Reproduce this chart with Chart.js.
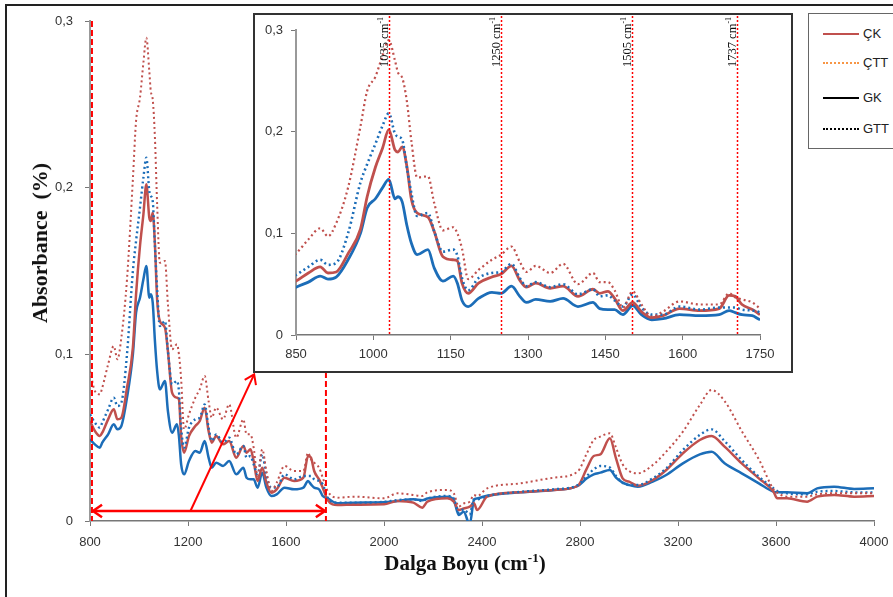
<!DOCTYPE html>
<html>
<head>
<meta charset="utf-8">
<script src="https://cdn.jsdelivr.net/npm/chart.js@4.4.1/dist/chart.umd.min.js"></script>
<style>
  body { margin: 0; background: #fff; width: 893px; height: 597px; overflow: hidden; position: relative;
         font-family: "Liberation Sans", Arial, sans-serif; }
  #frame { position: absolute; left: 5px; top: 4px; width: 900px; height: 600px;
           border-top: 2px solid #222; border-left: 2px solid #222; }
  #main { position: absolute; left: 0; top: 0; }
  #insetBox { position: absolute; left: 253px; top: 13px; width: 540px; height: 360px;
              border: 2px solid #333; box-sizing: border-box; background: #fff; }
  #legend { position: absolute; left: 808px; top: 13px; width: 110px; height: 134px;
            border: 1px solid #666; background: #fff; }
  .item { position: absolute; left: 14px; height: 16px; }
  .sample { position: absolute; left: 0; top: 7px; width: 36px; }
  .label { position: absolute; left: 40px; top: 0; font-size: 13px; line-height: 16px; color: #222; }
  .title { position: absolute; font-family: "Liberation Serif", "Times New Roman", serif; font-weight: bold;
           color: #111; white-space: nowrap; }
  #xTitle { left: 465px; top: 563px; font-size: 21px; transform: translate(-50%, -50%); }
  #yTitle { left: 40px; top: 243px; font-size: 22px; transform: translate(-50%, -50%) rotate(-90deg); }
  sup { font-size: 62%; vertical-align: 0.55em; line-height: 0; }
</style>
</head>
<body>
<div id="frame"></div>
<canvas id="main" width="893" height="597"></canvas>
<div id="insetBox"><canvas id="inset" width="536" height="356"></canvas></div>

<div id="legend">
  <div class="item" style="top:12px"><div class="sample" style="border-top:2px solid #c0504d"></div><span class="label">ÇK</span></div>
  <div class="item" style="top:41px"><div class="sample" style="border-top:2px dotted #f79646"></div><span class="label">ÇTT</span></div>
  <div class="item" style="top:76px"><div class="sample" style="border-top:2px solid #000"></div><span class="label">GK</span></div>
  <div class="item" style="top:107px"><div class="sample" style="border-top:2px dotted #000"></div><span class="label">GTT</span></div>
</div>

<div id="xTitle" class="title">Dalga Boyu (cm<sup>-1</sup>)</div>
<div id="yTitle" class="title">Absorbance&nbsp; (%)</div>

<script>
// ---------------- DATA ----------------
const wavenumbers = [800, 820, 840, 850, 874, 897, 912, 928, 951, 975,
  988, 1004, 1018, 1030, 1042, 1048, 1056, 1065, 1074, 1085,
  1106, 1118, 1135, 1155, 1163, 1172, 1184, 1204, 1230, 1248,
  1268, 1284, 1297, 1315, 1343, 1368, 1397, 1426, 1439, 1455,
  1468, 1484, 1503, 1520, 1540, 1562, 1594, 1633, 1671, 1690,
  1702, 1715, 1735, 1750, 1770, 1810, 1880, 2000, 2054, 2120,
  2156, 2177, 2258, 2285, 2305, 2325, 2350, 2367, 2380, 2421,
  2557, 2693, 2790, 2828, 2856, 2883, 2922, 2947, 2974, 3000,
  3036, 3097, 3152, 3220, 3289, 3337, 3390, 3460, 3530, 3590,
  3605, 3645, 3727, 3768, 3837, 3919, 4000];

const ck = [.060, .054, .051, .053, .061, .067, .061, .062, .080, .104,
  .136, .165, .184, .202, .182, .180, .185, .166, .133, .120,
  .116, .102, .077, .074, .073, .051, .041, .051, .057, .060,
  .068, .054, .047, .051, .046, .048, .038, .045, .041, .043,
  .036, .024, .032, .023, .017, .019, .026, .024, .026, .039,
  .038, .030, .025, .020, .0126, .0096, .0098, .010, .012, .011,
  .008, .0116, .0136, .0116, .0066, .0075, .0086, .0106, .0066, .0146,
  .0172, .0186, .021, .0316, .039, .040, .0496, .0376, .0256, .0236,
  .0212, .0246, .0306, .0406, .0486, .051, .0446, .0346, .0256, .0176,
  .0136, .0136, .0116, .0146, .0156, .0146, .015];

const ctt = [.090, .078, .076, .080, .094, .105, .097, .110, .145, .205,
  .240, .254, .275, .290, .270, .258, .253, .230, .190, .155,
  .156, .130, .103, .106, .100, .085, .055, .064, .074, .079,
  .087, .072, .062, .068, .061, .070, .050, .061, .052, .052,
  .044, .027, .043, .030, .018, .023, .033, .030, .030, .041,
  .037, .035, .032, .026, .018, .014, .0146, .0136, .0166, .0156,
  .015, .0172, .0186, .0166, .0086, .0105, .0116, .0156, .015, .0196,
  .0226, .026, .0296, .0406, .0486, .0506, .0526, .044, .034, .030,
  .0286, .0336, .0416, .0536, .0696, .0786, .072, .054, .037, .019,
  .017, .0146, .0146, .016, .0166, .0166, .0166];

const gk = [.049, .046, .044, .047, .052, .058, .055, .057, .074, .100,
  .125, .134, .145, .153, .134, .136, .131, .108, .090, .079,
  .084, .066, .053, .058, .051, .034, .028, .036, .042, .041,
  .048, .038, .032, .035, .033, .036, .028, .032, .026, .025,
  .025, .020, .029, .020, .015, .016, .020, .019, .020, .024,
  .022, .020, .019, .015, .0136, .0106, .011, .0112, .012, .013,
  .0125, .0135, .0146, .0126, .0036, .0056, -.002, .0126, .0135, .0152,
  .0172, .0186, .021, .0256, .028, .029, .0306, .026, .023, .0216,
  .0206, .0236, .0276, .0346, .040, .0416, .0346, .0286, .0226, .0176,
  .0172, .0172, .0166, .0196, .0206, .0192, .0196];

const gtt = [.064, .059, .056, .059, .067, .074, .069, .071, .100, .150,
  .168, .188, .206, .218, .198, .195, .192, .165, .139, .117,
  .120, .102, .082, .084, .078, .056, .044, .056, .061, .062,
  .070, .056, .048, .052, .047, .050, .040, .045, .038, .039,
  .034, .028, .040, .027, .020, .020, .028, .025, .027, .027,
  .027, .025, .024, .022, .014, .011, .011, .0115, .0125, .013,
  .012, .0135, .015, .0135, .005, .007, .004, .013, .013, .015,
  .0175, .019, .0215, .027, .031, .033, .032, .027, .023, .0216,
  .0216, .0256, .0316, .0426, .0516, .055, .048, .0366, .0266, .0196,
  .018, .0166, .016, .0176, .018, .0172, .0172];

// zoomed range marks on the main chart
const zoomRange = [808, 1763];
const arrowLevel = 0.006;
const pointerFrom = [1210, 0.006];
const pointerTo = [1470, 0.088];

// band marks on the inset
const bandX = [1030, 1248, 1502, 1705];
const bandLabels = ["1035", "1250", "1505", "1737"];

// ---------------- STYLES ----------------
const RED = "#c0504d";
const BLUE = "#1c6db8";
const MARK = "#ff0000";

function series(values) {
  return wavenumbers.map((w, i) => ({ x: w, y: values[i] }));
}

function makeDatasets(solidW, dotW) {
  return [
    { label: "ÇTT", data: series(ctt), borderColor: RED, borderWidth: dotW, borderDash: [2, 3] },
    { label: "GTT", data: series(gtt), borderColor: BLUE, borderWidth: dotW + 0.4, borderDash: [2, 3] },
    { label: "ÇK", data: series(ck), borderColor: RED, borderWidth: solidW },
    { label: "GK", data: series(gk), borderColor: BLUE, borderWidth: solidW }
  ];
}

const commaTick = v => v === 0 ? "0" : v.toFixed(1).replace(".", ",");
const tickFont = { family: "'Liberation Sans', Arial, sans-serif", size: 13 };

function baseOptions(xMin, xMax, xStep, pad, yWidth, xHeight, tickPadY, tickPadX) {
  return {
    responsive: false,
    animation: false,
    layout: { padding: pad },
    elements: { point: { radius: 0 }, line: { cubicInterpolationMode: "monotone", borderCapStyle: "butt" } },
    plugins: { legend: { display: false }, tooltip: { enabled: false } },
    scales: {
      x: {
        type: "linear", min: xMin, max: xMax,
        ticks: { stepSize: xStep, color: "#333", font: tickFont, padding: tickPadX, maxRotation: 0,
                 callback: v => String(v) },
        grid: { drawOnChartArea: false, tickLength: 5, color: "#777" },
        border: { color: "#777", width: 1.5 },
        afterFit: s => { s.height = xHeight; s.paddingLeft = 0; s.paddingRight = 0; }
      },
      y: {
        min: 0, max: 0.3,
        ticks: { stepSize: 0.1, color: "#333", font: tickFont, padding: tickPadY, callback: commaTick },
        grid: { drawOnChartArea: false, tickLength: 5, color: "#777" },
        border: { color: "#999", width: 2 },
        afterFit: s => { s.width = yWidth; s.paddingTop = 0; s.paddingBottom = 0; }
      }
    }
  };
}

function arrowHead(ctx, fx, fy, tx, ty) {
  const a = Math.atan2(ty - fy, tx - fx), len = 11, spread = 0.6;
  ctx.beginPath();
  ctx.moveTo(tx - len * Math.cos(a - spread), ty - len * Math.sin(a - spread));
  ctx.lineTo(tx, ty);
  ctx.lineTo(tx - len * Math.cos(a + spread), ty - len * Math.sin(a + spread));
  ctx.stroke();
}

// ---------------- MAIN CHART ----------------
const mainGuides = {
  id: "mainGuides",
  afterDatasetsDraw(chart) {
    const { ctx, scales: { x, y }, chartArea } = chart;
    ctx.save();
    ctx.strokeStyle = MARK;
    ctx.lineWidth = 2;
    ctx.setLineDash([6, 3]);
    zoomRange.forEach(v => {
      const px = x.getPixelForValue(v);
      ctx.beginPath();
      ctx.moveTo(px, chartArea.top);
      ctx.lineTo(px, chartArea.bottom);
      ctx.stroke();
    });
    ctx.setLineDash([]);
    ctx.lineWidth = 2.5;
    const x0 = x.getPixelForValue(zoomRange[0]) + 1, x1 = x.getPixelForValue(zoomRange[1]) - 1;
    const ay = y.getPixelForValue(arrowLevel);
    ctx.beginPath(); ctx.moveTo(x0, ay); ctx.lineTo(x1, ay); ctx.stroke();
    arrowHead(ctx, x1, ay, x0, ay);
    arrowHead(ctx, x0, ay, x1, ay);
    ctx.lineWidth = 2;
    const fx = x.getPixelForValue(pointerFrom[0]), fy = y.getPixelForValue(pointerFrom[1]);
    const tx = x.getPixelForValue(pointerTo[0]), ty = y.getPixelForValue(pointerTo[1]);
    ctx.beginPath(); ctx.moveTo(fx, fy); ctx.lineTo(tx, ty); ctx.stroke();
    arrowHead(ctx, fx, fy, tx, ty);
    ctx.restore();
  }
};

new Chart(document.getElementById("main"), {
  type: "line",
  data: { datasets: makeDatasets(2.5, 2) },
  options: baseOptions(800, 4000, 400, { left: 0, top: 21, right: 19, bottom: 0 }, 90, 76, 12, 9),
  plugins: [mainGuides]
});

// ---------------- INSET CHART ----------------
const insetGuides = {
  id: "insetGuides",
  afterDatasetsDraw(chart) {
    const { ctx, scales: { x }, chartArea } = chart;
    ctx.save();
    bandX.forEach((v, i) => {
      const px = Math.round(x.getPixelForValue(v)) + 0.5;
      ctx.strokeStyle = MARK;
      ctx.lineWidth = 1.5;
      ctx.setLineDash([2, 2]);
      ctx.beginPath();
      ctx.moveTo(px, 1);
      ctx.lineTo(px, chartArea.bottom);
      ctx.stroke();
      // rotated band label
      ctx.save();
      ctx.translate(px - 2, 52);
      ctx.rotate(-Math.PI / 2);
      ctx.fillStyle = "#111";
      ctx.textBaseline = "alphabetic";
      ctx.font = "12.5px 'Liberation Serif', 'Times New Roman', serif";
      const main = bandLabels[i] + " cm";
      ctx.fillText(main, 0, 0);
      const w = ctx.measureText(main).width;
      ctx.font = "8px 'Liberation Serif', 'Times New Roman', serif";
      ctx.fillText("-1", w, -5);
      ctx.restore();
    });
    ctx.restore();
  }
};

new Chart(document.getElementById("inset"), {
  type: "line",
  data: { datasets: makeDatasets(2.8, 2.2) },
  options: baseOptions(850, 1750, 150, { left: 0, top: 15, right: 31, bottom: 0 }, 41, 36, 8, 7),
  plugins: [insetGuides]
});
</script>
</body>
</html>
